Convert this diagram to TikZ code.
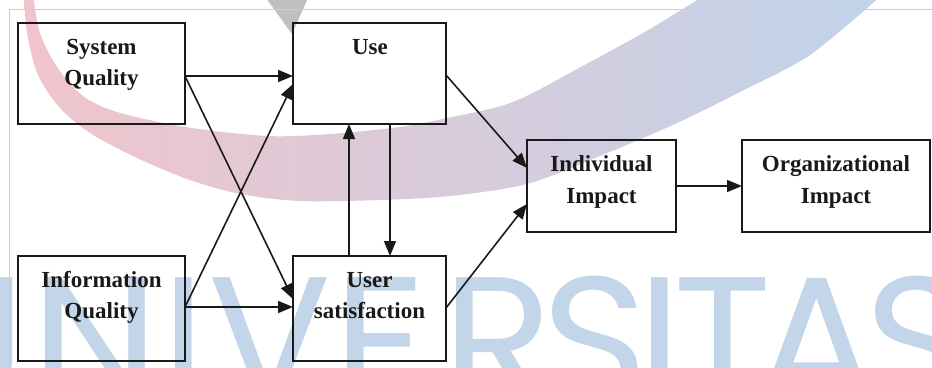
\documentclass[tikz,border=0pt]{standalone}
\usepackage{fontspec}
\setmainfont{Liberation Serif}
\newfontfamily\wmfont{Poppins}
\usetikzlibrary{arrows.meta}
\definecolor{wmPink}{RGB}{240,196,204}
\definecolor{wmMid}{RGB}{218,206,224}
\definecolor{wmBlue}{RGB}{192,211,233}
\definecolor{wmLetter}{RGB}{195,213,233}
\definecolor{wmGray}{RGB}{192,192,192}
\definecolor{frameGray}{RGB}{205,205,205}
\definecolor{ink}{RGB}{25,25,25}
\tikzset{
  box/.style={draw=ink, line width=2.2pt, inner sep=0pt, outer sep=0pt},
  lbl/.style={font=\fontsize{23}{31.5}\selectfont\bfseries, align=center, inner sep=0pt, text=ink},
  arr/.style={draw=ink, line width=1.6pt, -{Triangle[length=15pt,width=12pt]}},
  framel/.style={draw=frameGray, line width=0.9pt},
  wmletter/.style={anchor=base, inner sep=0pt, text=wmLetter, font=\wmfont\fontsize{182}{182}\selectfont}
}
\begin{document}
\begin{tikzpicture}[x=1pt,y=-1pt]
\useasboundingbox (0,0) rectangle (932,367);
\clip (0,0) rectangle (932,367);
% watermark swoosh
\shade[left color=wmPink, middle color=wmMid, right color=wmBlue]
  plot[smooth] coordinates {(24,-5) (27,33) (38,75) (60,108) (90,133) (135,157) (187,179) (240,194) (300,201) (380,200) (450,196) (527,184) (600,156) (675,124) (740,92) (810,55) (882,-5)}
  -- plot[smooth] coordinates {(705,-5) (650,29) (590,62) (513,102) (447,118) (400,127) (330,134) (267,136) (185,127) (117,112) (83,96) (57,67) (40,33) (33,-5)}
  -- cycle;
\fill[wmGray] (266,-2) -- (308,-2) -- (292,34) -- cycle;
% watermark word UNIVERSITAS
\foreach \ch/\cx [count=\i] in {U/-35, N/95, I/184, V/270, E/380, R/498, S/595, I/660, T/723, A/817, S/918}
  \node[wmletter] (wm\i) at (\cx,404) {\ch};
% frame
\draw[framel] (940,9) -- (9,9) -- (9,375);
% boxes
\node[box, minimum width=167pt, minimum height=101pt] (sq) at (101.5,73.5) {};
\node[box, minimum width=153pt, minimum height=101pt] (use) at (369.5,73.5) {};
\node[box, minimum width=167pt, minimum height=105pt] (iq) at (101.5,308.5) {};
\node[box, minimum width=153pt, minimum height=105pt] (us) at (369.5,308.5) {};
\node[box, minimum width=149pt, minimum height=92pt] (ii) at (601.5,186) {};
\node[box, minimum width=188pt, minimum height=92pt] (oi) at (836,186) {};
% labels
\node[lbl] (sqt) at (101.5,65) {System\\Quality};
\node[lbl] (uset) at (370,47.4) {Use};
\node[lbl] (iqt) at (101.5,297.5) {Information\\Quality};
\node[lbl] (ust) at (369.5,295.5) {User\\satisfaction};
\node[lbl] (iit) at (601.5,182) {Individual\\Impact};
\node[lbl] (oit) at (836,182) {Organizational\\Impact};
% helper levels
\coordinate (ySQ) at (0,76);
\coordinate (yIQ) at (0,307);
\coordinate (yUSin) at (0,299);
\coordinate (yUsein) at (0,84);
\coordinate (xDown) at (390,0);
\coordinate (xUp) at (349,0);
\coordinate (yUseOut) at (0,75);
\coordinate (yIIinA) at (0,168);
\coordinate (yUSout) at (0,308);
\coordinate (yIIinB) at (0,204);
% connectors
\draw[arr] (sq.east |- ySQ) -- (use.west |- ySQ);
\draw[arr] (sq.east |- ySQ) -- (us.west |- yUSin);
\draw[arr] (iq.east |- yIQ) -- (use.west |- yUsein);
\draw[arr] (iq.east |- yIQ) -- (us.west |- yIQ);
\draw[arr] (use.south -| xDown) -- (us.north -| xDown);
\draw[arr] (us.north -| xUp) -- (use.south -| xUp);
\draw[arr] (use.east |- yUseOut) -- (ii.west |- yIIinA);
\draw[arr] (us.east |- yUSout) -- (ii.west |- yIIinB);
\draw[arr] (ii) -- (oi);
\end{tikzpicture}
\end{document}
